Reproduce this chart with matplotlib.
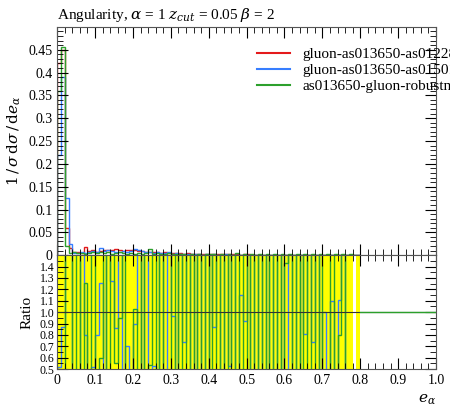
import numpy as np
import matplotlib
matplotlib.use("Agg")
import matplotlib.pyplot as plt
from matplotlib.ticker import MultipleLocator

plt.rcParams['font.family'] = ['Liberation Serif', 'DejaVu Serif']
plt.rcParams['mathtext.fontset'] = 'dejavuserif'

edges = np.round(np.arange(0, 0.81, 0.01), 2)  # 80 bins up to 0.8
red_head = [0.42, 0.45, 0.06, 0.015]
blue_head = [0.22, 0.39, 0.125, 0.025]
green_head = [0.36, 0.455, 0.02, 0.005]
red_tail = [0.006, 0.006, 0.005, 0.018, 0.010, 0.012, 0.008, 0.010, 0.012, 0.011, 0.011, 0.013,
            0.012, 0.010, 0.012, 0.011, 0.012, 0.010, 0.009, 0.008, 0.007, 0.006, 0.006, 0.005,
            0.006, 0.005, 0.004, 0.004, 0.004, 0.003, 0.004, 0.003, 0.003, 0.003, 0.002, 0.003,
            0.003, 0.002, 0.002, 0.002, 0.003, 0.002, 0.002, 0.002, 0.001, 0.002, 0.002, 0.001,
            0.001, 0.001, 0.001, 0.001, 0.001, 0.001, 0.001, 0.001, 0.001, 0.001, 0.001, 0.001,
            0.001, 0.001, 0.001, 0.001, 0.001, 0.001, 0.001, 0.001, 0.001, 0.001, 0.001, 0.001,
            0.001, 0.001, 0.0, 0.001]
blue_tail = [0.005, 0.004, 0.006, 0.004, 0.006, 0.009, 0.007, 0.015, 0.009, 0.012, 0.010, 0.007,
             0.008, 0.010, 0.006, 0.009, 0.013, 0.012, 0.010, 0.007, 0.006, 0.005, 0.006, 0.004,
             0.005, 0.007, 0.003, 0.004, 0.002, 0.003, 0.002, 0.003, 0.002, 0.002, 0.001, 0.002,
             0.001, 0.002, 0.001, 0.001, 0.002, 0.001, 0.001, 0.001, 0.001, 0.001, 0.001, 0.001,
             0.001, 0.001, 0.001, 0.001, 0.001, 0.001, 0.001, 0.001, 0.001, 0.001, 0.001, 0.001,
             0.001, 0.001, 0.001, 0.001, 0.001, 0.001, 0.001, 0.001, 0.001, 0.001, 0.001, 0.001,
             0.001, 0.001, 0.0, 0.001]
green_tail = [0.007, 0.004, 0.005, 0.003, 0.004, 0.006, 0.005, 0.007, 0.004, 0.006, 0.003, 0.005,
              0.006, 0.004, 0.003, 0.005, 0.003, 0.004, 0.002, 0.004, 0.014, 0.003, 0.004, 0.002,
              0.003, 0.004, 0.002, 0.003, 0.002, 0.002, 0.001, 0.003, 0.001, 0.002, 0.001, 0.002,
              0.003, 0.002, 0.001, 0.002, 0.001, 0.002, 0.001, 0.004, 0.001, 0.002, 0.001, 0.003,
              0.001, 0.002, 0.001, 0.002, 0.001, 0.002, 0.001, 0.002, 0.001, 0.003, 0.001, 0.002,
              0.001, 0.002, 0.001, 0.002, 0.001, 0.002, 0.001, 0.002, 0.001, 0.002, 0.001, 0.002,
              0.001, 0.002, 0.0, 0.0]
red = np.array(red_head + red_tail)
blue = np.array(blue_head + blue_tail)
green = np.array(green_head + green_tail)

# ratio to red (values outside 0.5-1.5 are clipped by the axes)
blue_ratio = [0.52, 0.87, 2, 2, 0.3, 0.3, 2, 0.8, 0.3, 0.52, 0.8, 1.26, 0.3, 2, 1.27, 0.86, 2,
              0.3, 0.7, 0.3, 0.9, 2, 0.3, 2, 0.3, 0.53, 0.3, 2, 0.3, 2, 0.97, 0.3, 2, 0.74, 2,
              0.3, 2, 0.3, 2, 0.3, 2, 0.87, 2, 0.3, 2, 0.53, 2, 0.3, 1.15, 0.92, 2, 0.3, 2, 0.3,
              2, 0.3, 2, 0.3, 2, 0.3, 2, 0.3, 2, 0.3, 2, 0.81, 2, 0.74, 2, 0.3, 1.0, 0.3, 1.1,
              0.3, 1.11, 2, 0.3, 0.3, 0.3, 0.3]
green_ratio = [0.3, 0.3, 2, 2, 0.3, 2, 0.3, 1.26, 0.3, 2, 0.3, 0.6, 2, 0.3, 2, 0.55, 0.95, 2,
               0.3, 0.3, 1.03, 0.3, 2, 0.3, 0.54, 2, 0.3, 2, 0.3, 0.3, 2, 0.3, 2, 0.3, 2, 0.3,
               2, 0.3, 2, 0.3, 2, 0.3, 2, 0.3, 2, 0.3, 2, 0.3, 2, 0.3, 2, 0.3, 2, 0.3, 2, 0.3,
               2, 0.3, 2, 0.3, 1.43, 2, 0.3, 2, 0.3, 2, 0.3, 2, 0.3, 2, 0.3, 0.3, 2, 0.3, 0.8,
               2, 0.3, 0.3, 0.3, 0.3]
band_lo = [0.5] * 78 + [1.0, 0.5]
band_hi = [1.5] * 78 + [1.0, 1.5]

fig = plt.figure(figsize=(4.5, 4.07), dpi=100)
ax = fig.add_axes([0.127, 0.373, 0.842, 0.561])
axr = fig.add_axes([0.127, 0.093, 0.842, 0.28], sharex=ax)

ax.stairs(red, edges, color='#e41a1c', lw=1)
ax.stairs(blue, edges, color='#377eff', lw=1)
ax.stairs(green, edges, color='#2ca02c', lw=1)
ax.plot([], [], color='#e41a1c', label='gluon-as013650-as012285-p')
ax.plot([], [], color='#377eff', label='gluon-as013650-as015015-p')
ax.plot([], [], color='#2ca02c', label='as013650-gluon-robustness')
leg = ax.legend(loc='upper left', bbox_to_anchor=(0.49, 0.97), frameon=False,
                fontsize=11, handlelength=2.2, labelspacing=0.15)
leg.set_clip_on(False)

ax.set_xlim(0, 1)
ax.set_ylim(0, 0.5)
ax.set_yticks(np.arange(0, 0.46, 0.05))
ax.set_yticklabels(['0', '0.05', '0.1', '0.15', '0.2', '0.25', '0.3', '0.35', '0.4', '0.45'])
ax.set_ylabel(r'$1\,/\,\sigma\,\mathrm{d}\sigma\,/\,\mathrm{d}e_\alpha$', fontsize=11)
ax.set_title(r'Angularity, $\alpha$ = 1 $z_{cut}$ = 0.05 $\beta$ = 2', loc='left', fontsize=11)
plt.setp(ax.get_xticklabels(), visible=False)

axr.stairs(band_hi, edges, baseline=band_lo, fill=True, color='#ffff00', lw=0)
axr.axhline(1.0, color='#333333', lw=0.8)
axr.stairs(blue_ratio, edges, color='#377eff', lw=1)
axr.stairs(green_ratio, edges, color='#2ca02c', lw=1)
axr.plot([0.8, 1.0], [1.0, 1.0], color='#2ca02c', lw=1)
axr.set_ylim(0.5, 1.5)
axr.set_yticks(np.round(np.arange(0.5, 1.41, 0.1), 1))
axr.set_yticklabels(['0.5', '0.6', '0.7', '0.8', '0.9', '1.0', '1.1', '1.2', '1.3', '1.4'])
axr.set_xticks(np.round(np.arange(0, 1.01, 0.1), 1))
axr.set_xticklabels(['0', '0.1', '0.2', '0.3', '0.4', '0.5', '0.6', '0.7', '0.8', '0.9', '1.0'])
axr.set_ylabel('Ratio', fontsize=11)
axr.set_xlabel(r'$e_\alpha$', fontsize=11, loc='right')

for a in (ax, axr):
    a.xaxis.set_minor_locator(MultipleLocator(0.02))
    a.tick_params(which='both', direction='in', top=True, right=True, labelsize=10)
    a.tick_params(which='major', length=8)
    a.tick_params(which='minor', length=4)
    for s in a.spines.values():
        s.set_color('#555555')
ax.yaxis.set_minor_locator(MultipleLocator(0.01))
axr.yaxis.set_minor_locator(MultipleLocator(0.05))
axr.tick_params(axis='y', labelsize=8.5, pad=2)

fig.savefig('out.png', dpi=100)
